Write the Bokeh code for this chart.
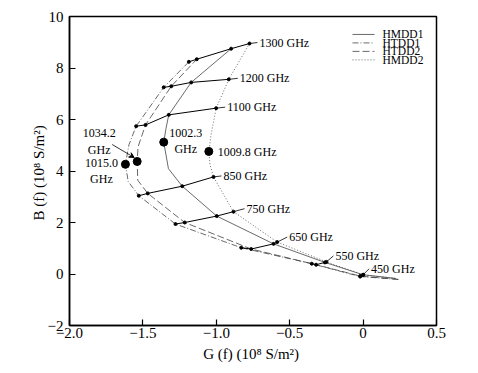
import math
from bokeh.plotting import figure
from bokeh.models import Range1d, FixedTicker, Arrow, VeeHead
from bokeh.core.properties import value
from bokeh.embed import file_html
from bokeh.resources import INLINE

# ---- data: G(f), B(f) in 1e8 S/m^2 along each curve (low -> high frequency)
hmdd1_G = [0.22, 0.0, -0.26, -0.61, -0.997, -1.232, -1.326, -1.358, -1.343, -1.324, -1.171, -0.899]
hmdd1_B = [-0.17, -0.03, 0.45, 1.17, 2.25, 3.41, 4.09, 5.12, 5.64, 6.18, 7.44, 8.75]
htdd1_G = [0.24, -0.02, -0.35, -0.83, -1.278, -1.528, -1.600, -1.619, -1.595, -1.546, -1.358, -1.187]
htdd1_B = [-0.21, -0.10, 0.40, 1.02, 1.94, 3.04, 3.59, 4.26, 5.02, 5.74, 7.25, 8.24]
htdd2_G = [0.24, -0.02, -0.32, -0.762, -1.215, -1.467, -1.535, -1.539, -1.533, -1.482, -1.307, -1.133]
htdd2_B = [-0.21, -0.08, 0.36, 0.97, 2.00, 3.13, 3.64, 4.37, 4.94, 5.79, 7.29, 8.34]
hmdd2_G = [0.22, 0.0, -0.25, -0.585, -0.883, -1.019, -1.043, -1.051, -1.035, -1.001, -0.915, -0.774]
hmdd2_B = [-0.17, -0.03, 0.47, 1.24, 2.42, 3.77, 4.25, 4.76, 5.44, 6.44, 7.56, 8.95]

series_names = ["HMDD1", "HTDD1", "HTDD2", "HMDD2"]

# labelled frequencies and their index in the curve lists
freq_idx = [1, 2, 3, 4, 5, 9, 10, 11]
freq_labels = ["450 GHz", "550 GHz", "650 GHz", "750 GHz", "850 GHz",
               "1100 GHz", "1200 GHz", "1300 GHz"]

# frequency of minimum G on each curve (index 7)
min_idx = 7
min_labels = {"HMDD1": "1002.3\nGHz", "HTDD1": "1015.0\nGHz",
              "HTDD2": "1034.2\nGHz", "HMDD2": "1009.8 GHz"}

x_ticks = [-2.0, -1.5, -1.0, -0.5, 0.0, 0.5]
x_tick_labels = ["\u22122.0", "\u22121.5", "\u22121.0", "\u22120.5", "0", "0.5"]
y_ticks = [-2, 0, 2, 4, 6, 8, 10]
y_tick_labels = ["\u22122", "0", "2", "4", "6", "8", "10"]

# ---- layout
W, H = 469, 364
BL, BR, BT, BB = 69, 33, 16, 38
FW, FH = W - BL - BR, H - BT - BB
XR, YR = (-2.0, 0.5), (-2.0, 10.0)
def dgx(px):  # pixel offset -> data offset (x)
    return px * (XR[1] - XR[0]) / FW
def dby(py):  # pixel offset (down positive) -> data offset (y)
    return -py * (YR[1] - YR[0]) / FH

FONT = "Liberation Serif"

p = figure(width=W, height=H, x_range=Range1d(*XR), y_range=Range1d(*YR),
           output_backend="svg", toolbar_location=None,
           min_border_left=BL, min_border_right=BR, min_border_top=BT, min_border_bottom=BB)
p.xgrid.visible = False
p.ygrid.visible = False
p.outline_line_color = "black"
p.outline_line_width = 1.5
p.background_fill_color = "white"
p.border_fill_color = "white"

for ax in (p.xaxis[0], p.yaxis[0]):
    ax.axis_line_width = 1.5
    ax.axis_line_color = "black"
    ax.major_tick_in = 6
    ax.major_tick_out = 0
    ax.major_tick_line_width = 1.2
    ax.minor_tick_in = 0
    ax.minor_tick_out = 0
    ax.major_label_text_font = FONT
    ax.major_label_text_font_size = "15px"
    ax.major_label_text_color = "black"
    ax.axis_label_text_font = FONT
    ax.axis_label_text_font_size = "15px"
    ax.axis_label_text_font_style = "normal"
    ax.axis_label_text_color = "black"

p.xaxis.ticker = FixedTicker(ticks=x_ticks)
p.xaxis.major_label_overrides = dict(zip(x_ticks, x_tick_labels))
p.yaxis.ticker = FixedTicker(ticks=y_ticks)
p.yaxis.major_label_overrides = dict(zip(y_ticks, y_tick_labels))
p.xaxis.major_label_standoff = 2
p.yaxis.major_label_standoff = 6
p.xaxis.axis_label = "G (f) (10\u2078  S/m\u00b2)"
p.yaxis.axis_label = "B (f) (10\u2078  S/m\u00b2)"
p.xaxis.axis_label_standoff = 5
p.yaxis.axis_label_standoff = -2

curves = {"HMDD1": (hmdd1_G, hmdd1_B), "HTDD1": (htdd1_G, htdd1_B),
          "HTDD2": (htdd2_G, htdd2_B), "HMDD2": (hmdd2_G, hmdd2_B)}
dash = {"HMDD1": "solid", "HTDD1": "6 2 1 2", "HTDD2": "7 3", "HMDD2": "1 2"}
CURVE_COLOR = "#444444"

for name in series_names:
    g, b = curves[name]
    p.line(g, b, line_color=CURVE_COLOR, line_width=0.8, line_dash=dash[name])

# iso-frequency connecting lines (HTDD1 -> HTDD2 -> HMDD1 -> HMDD2)
order = ["HTDD1", "HTDD2", "HMDD1", "HMDD2"]
xs = [[curves[n][0][i] for n in order] for i in freq_idx]
ys = [[curves[n][1][i] for n in order] for i in freq_idx]
p.multi_line(xs, ys, line_color="black", line_width=1.0)
px = [curves[n][0][i] for i in freq_idx for n in order]
py = [curves[n][1][i] for i in freq_idx for n in order]
p.scatter(px, py, size=3, color="black")

# leaders and frequency labels (from the HMDD2 point)
lead_dx = [6, 7, 10, 11, 8, 9, 9, 8]
lead_up = [6, 6, 5, 3, 1, 1, 1, 1]
lx = [hmdd2_G[i] for i in freq_idx]
ly = [hmdd2_B[i] for i in freq_idx]
p.ray(lx, ly, length=[math.hypot(a, b) for a, b in zip(lead_dx, lead_up)],
      angle=[math.atan2(b, a) for a, b in zip(lead_dx, lead_up)],
      length_units="screen", line_color="black", line_width=0.8)
p.text(lx, ly, text=freq_labels, x_offset=[a + 2 for a in lead_dx],
       y_offset=[-b for b in lead_up], text_font=value(FONT),
       text_font_size="12px", text_baseline="middle", text_align="left",
       text_color="black")

# minimum-G points
mg = [curves[n][0][min_idx] for n in series_names]
mb = [curves[n][1][min_idx] for n in series_names]
p.scatter(mg, mb, size=8, color="black")
txt_off = {"HMDD1": (22, -1, "center"), "HTDD1": (-24, 7, "center"),
           "HTDD2": (-38, -20, "center"), "HMDD2": (9, 1, "left")}
for n in series_names:
    ox, oy, al = txt_off[n]
    p.text([curves[n][0][min_idx]], [curves[n][1][min_idx]], text=[min_labels[n]],
           x_offset=ox, y_offset=oy, text_font=value(FONT), text_font_size="12px",
           text_baseline="middle", text_align=al, text_color="black",
           text_line_height=1.15)

# arrow from the 1034.2 GHz text to its point
g0, b0 = htdd2_G[min_idx], htdd2_B[min_idx]
p.add_layout(Arrow(end=VeeHead(size=5, line_color="black", line_width=1, fill_color="black"),
                   x_start=g0 + dgx(-25), y_start=b0 + dby(-17),
                   x_end=g0 + dgx(-3), y_end=b0 + dby(-4),
                   line_color="black", line_width=0.8))

# legend (drawn manually, compact rows)
leg_x0, leg_x1, leg_tx = XR[1] + dgx(-84), XR[1] + dgx(-62), XR[1] + dgx(-54)
for k, n in enumerate(series_names):
    yk = YR[1] + dby(18 + 8.5 * k)
    p.line([leg_x0, leg_x1], [yk, yk], line_color=CURVE_COLOR, line_width=0.8, line_dash=dash[n])
    p.text([leg_tx], [yk], text=[n], text_font=value(FONT), text_font_size="11.5px",
           text_baseline="middle", text_align="left", text_color="black")

open("out.html", "w").write(file_html(p, INLINE))
